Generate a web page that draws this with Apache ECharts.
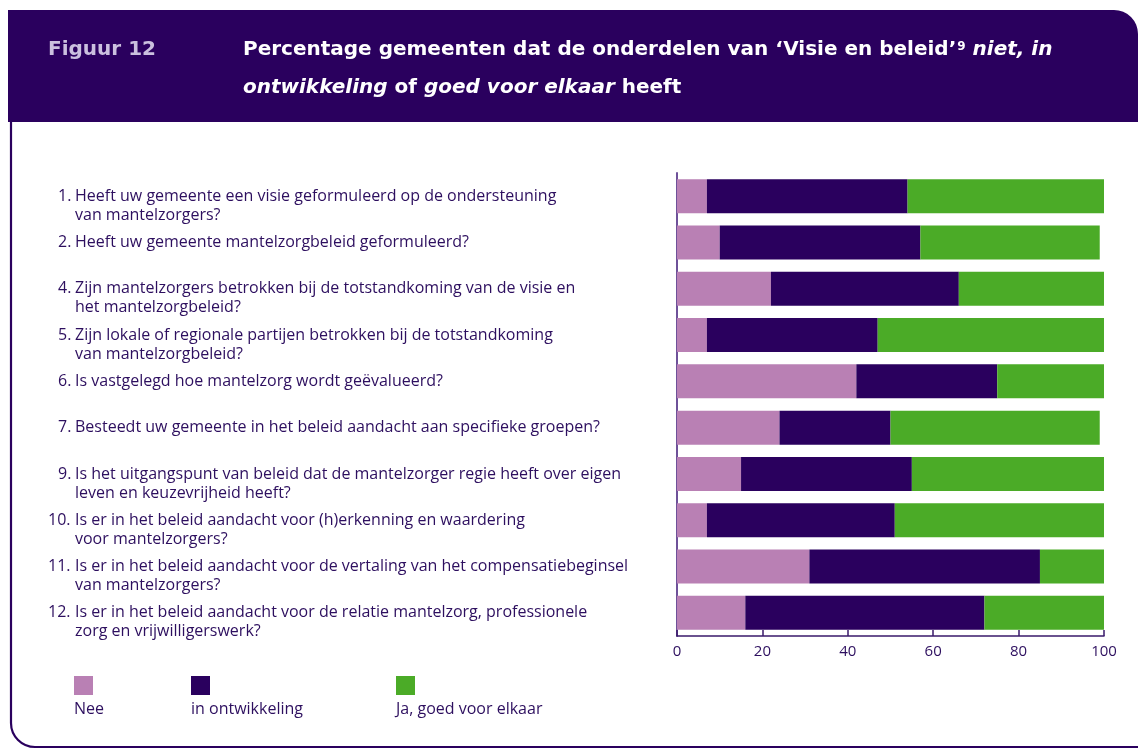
<!DOCTYPE html>
<html>
<head>
<meta charset="utf-8">
<script src="https://cdn.jsdelivr.net/npm/echarts@6/dist/echarts.min.js"></script>
<style>
  html, body { margin: 0; padding: 0; background: #ffffff; }
  #chart { width: 1138px; height: 749px; }
</style>
</head>
<body>
<div id="chart"></div>
<script>
const itemNumbers = ["1.", "2.", "4.", "5.", "6.", "7.", "9.", "10.", "11.", "12."];
const firstLines = [
  "Heeft uw gemeente een visie geformuleerd op de ondersteuning",
  "Heeft uw gemeente mantelzorgbeleid geformuleerd?",
  "Zijn mantelzorgers betrokken bij de totstandkoming van de visie en",
  "Zijn lokale of regionale partijen betrokken bij de totstandkoming",
  "Is vastgelegd hoe mantelzorg wordt geëvalueerd?",
  "Besteedt uw gemeente in het beleid aandacht aan specifieke groepen?",
  "Is het uitgangspunt van beleid dat de mantelzorger regie heeft over eigen",
  "Is er in het beleid aandacht voor (h)erkenning en waardering",
  "Is er in het beleid aandacht voor de vertaling van het compensatiebeginsel",
  "Is er in het beleid aandacht voor de relatie mantelzorg, professionele"
];
const secondLines = [
  "van mantelzorgers?",
  "",
  "het mantelzorgbeleid?",
  "van mantelzorgbeleid?",
  "",
  "",
  "leven en keuzevrijheid heeft?",
  "voor mantelzorgers?",
  "van mantelzorgers?",
  "zorg en vrijwilligerswerk?"
];
const seriesNames = ["Nee", "in ontwikkeling", "Ja, goed voor elkaar"];
const nee = [7, 10, 22, 7, 42, 24, 15, 7, 31, 16];
const inOntwikkeling = [47, 47, 44, 40, 33, 26, 40, 44, 54, 56];
const goedVoorElkaar = [46, 42, 34, 53, 25, 49, 45, 49, 15, 28];
const xTicks = [0, 20, 40, 60, 80, 100];

const colors = ["#b980b4", "#2a005e", "#4bab27"];
const textColor = "#2d0f5f";
const fontFamily = "Open Sans";
const titleFont = "DejaVu Sans";

var chart = echarts.init(document.getElementById("chart"), null, { renderer: "canvas" });

function bar(name, data, color) {
  return {
    name: name,
    type: "bar",
    stack: "total",
    data: data,
    barWidth: 34,
    itemStyle: { color: color },
    emphasis: { disabled: true }
  };
}

function legendFor(name, left) {
  return {
    data: [name],
    left: left,
    top: 676,
    padding: 0,
    icon: "rect",
    itemWidth: 19,
    itemHeight: 19,
    selectedMode: false,
    formatter: function () { return ""; }
  };
}

var labelText = { fontSize: 16, lineHeight: 19, color: textColor, fontFamily: fontFamily };

var option = {
  backgroundColor: "#ffffff",
  color: colors,
  textStyle: { fontFamily: fontFamily },
  title: [
    {
      text: "Figuur 12",
      left: 48,
      top: 37,
      padding: 0,
      textStyle: { color: "#cbc0df", fontSize: 20, fontWeight: "bold", fontFamily: titleFont, lineHeight: 26 }
    },
    {
      text: "{b|Percentage gemeenten dat de onderdelen van ‘Visie en beleid’}{s|9}{b| }{i|niet, in}\n{i|ontwikkeling}{b| of }{i|goed voor elkaar}{b| heeft}",
      left: 243,
      top: 31,
      padding: 0,
      textStyle: {
        rich: {
          b: { color: "#ffffff", fontSize: 20, fontWeight: "bold", fontFamily: titleFont, lineHeight: 38 },
          i: { color: "#ffffff", fontSize: 20, fontWeight: "bold", fontStyle: "italic", fontFamily: titleFont, lineHeight: 38 },
          s: { color: "#ffffff", fontSize: 12, fontWeight: "bold", fontFamily: titleFont, lineHeight: 12, padding: [0, 0, 7, 1] }
        }
      }
    }
  ],
  legend: [
    legendFor(seriesNames[0], 74),
    legendFor(seriesNames[1], 191),
    legendFor(seriesNames[2], 396)
  ],
  grid: { left: 677, right: 34, top: 173, bottom: 113, containLabel: false },
  xAxis: {
    type: "value",
    min: 0,
    max: 100,
    interval: 20,
    axisLine: { show: true, lineStyle: { color: "#3a1a6b", width: 1.5 } },
    axisTick: { show: true, inside: true, length: 6, lineStyle: { color: "#3a1a6b", width: 1.5 } },
    splitLine: { show: false },
    axisLabel: {
      margin: 8,
      fontSize: 15,
      color: textColor,
      fontFamily: fontFamily,
      formatter: function (v) { return xTicks.indexOf(v) >= 0 ? String(v) : ""; }
    }
  },
  yAxis: {
    type: "category",
    inverse: true,
    data: itemNumbers,
    axisLine: { show: true, lineStyle: { color: "#6e5199", width: 2 } },
    axisTick: { show: false },
    axisLabel: {
      interval: 0,
      align: "left",
      margin: 629,
      formatter: function (value, idx) {
        var num = itemNumbers[idx];
        var numStyle = num.length > 2 ? "n2" : "n1";
        var lines = ["{t| }", "{" + numStyle + "|" + num + "}{t|" + firstLines[idx] + "}"];
        lines.push(secondLines[idx] ? "{n2| }{t|" + secondLines[idx] + "}" : "{t| }");
        return lines.join("\n");
      },
      rich: {
        n1: Object.assign({ width: 17, padding: [0, 0, 0, 10] }, labelText),
        n2: Object.assign({ width: 27 }, labelText),
        t: labelText
      }
    }
  },
  graphic: [
    {
      type: "rect",
      z: -10,
      shape: { x: 11, y: 60, width: 1200, height: 687, r: 24 },
      style: { fill: "#ffffff", stroke: "#2a005e", lineWidth: 2.2 }
    },
    {
      type: "rect",
      z: -9,
      shape: { x: 8, y: 10, width: 1130, height: 112, r: [0, 24, 0, 0] },
      style: { fill: "#2a005e" }
    },
    { type: "text", left: 74, top: 701, style: { text: seriesNames[0], fontSize: 16, fill: textColor, fontFamily: fontFamily } },
    { type: "text", left: 191, top: 701, style: { text: seriesNames[1], fontSize: 16, fill: textColor, fontFamily: fontFamily } },
    { type: "text", left: 396, top: 701, style: { text: seriesNames[2], fontSize: 16, fill: textColor, fontFamily: fontFamily } }
  ],
  series: [
    bar(seriesNames[0], nee, colors[0]),
    bar(seriesNames[1], inOntwikkeling, colors[1]),
    bar(seriesNames[2], goedVoorElkaar, colors[2])
  ]
};
option && chart.setOption(option);
</script>
</body>
</html>
